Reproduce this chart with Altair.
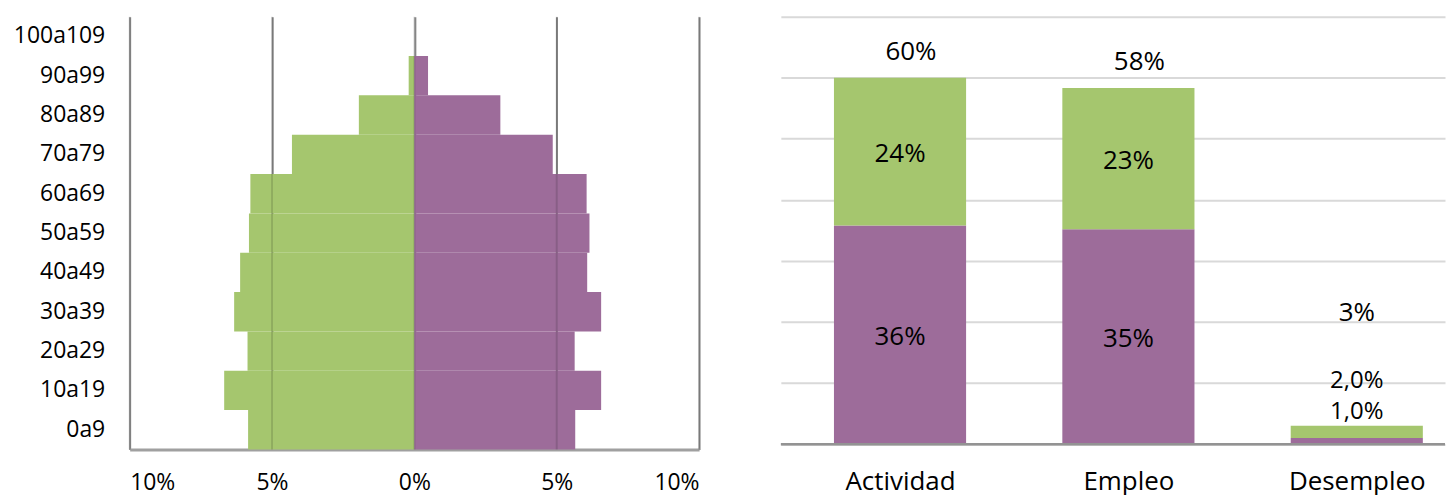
import json
import altair as alt
import pandas as pd

# ---------------- data ----------------
edades = ["0a9", "10a19", "20a29", "30a39", "40a49", "50a59",
          "60a69", "70a79", "80a89", "90a99", "100a109"]
verde_izq = [5.84, 6.68, 5.86, 6.33, 6.12, 5.81, 5.76, 4.30, 1.95, 0.20, 0.0]
morado_der = [5.65, 6.56, 5.63, 6.56, 6.07, 6.15, 6.05, 4.86, 3.02, 0.48, 0.0]
ticks_x = [-10, -5, 0, 5, 10]

categorias = ["Actividad", "Empleo", "Desempleo"]
morado_tasa = [35.8, 35.2, 1.0]
verde_tasa = [24.2, 23.1, 2.0]
etiq_morado = ["36%", "35%", "1,0%"]
etiq_verde = ["24%", "23%", "2,0%"]
total_tasa = [60.0, 58.3, 3.0]
etiq_total = ["60%", "58%", "3%"]
ticks_y = [0, 10, 20, 30, 40, 50, 60, 70]

GREEN = "#A5C66E"
PURPLE = "#9D6C9A"
FONT = "Open Sans"

# ---------------- left: pyramid ----------------
pyr = pd.DataFrame({
    "edad": edades * 2,
    "serie": ["verde"] * len(edades) + ["morado"] * len(edades),
    "valor": [-v for v in verde_izq] + morado_der,
})
orden_y = edades[::-1]
color_scale = alt.Scale(domain=["verde", "morado"], range=[GREEN, PURPLE])

x_left_scale = alt.Scale(domain=[-10, 10], nice=False, zero=False)
x_left_axis = alt.Axis(values=ticks_x, labelExpr="abs(datum.value) + '%'",
                       title=None, grid=True, gridColor="#8c8c8c", gridWidth=2,
                       ticks=False, domainColor="#a0a0a0", domainWidth=3,
                       labelFontSize=23, labelPadding=22, labelFont=FONT,
                       labelColor="#000")

bars_left = alt.Chart(pyr).mark_bar().encode(
    x=alt.X("valor:Q", scale=x_left_scale, axis=x_left_axis),
    y=alt.Y("edad:N", sort=orden_y,
            scale=alt.Scale(paddingInner=0, paddingOuter=0),
            axis=alt.Axis(title=None, domain=False, ticks=False, labelFontSize=23,
                          labelPadding=25, labelFont=FONT, labelColor="#000")),
    color=alt.Color("serie:N", scale=color_scale, legend=None),
)

rules_left = alt.Chart(pd.DataFrame({"valor": ticks_x})).mark_rule(
    color="#000", opacity=0.13, strokeWidth=2
).encode(x=alt.X("valor:Q", scale=x_left_scale, axis=x_left_axis))

left = alt.layer(bars_left, rules_left).properties(width=571, height=434)

# ---------------- right: stacked bars ----------------
idx = list(range(len(categorias)))
tasas = pd.DataFrame({
    "cat": categorias * 2,
    "pos": idx * 2,
    "serie": ["morado"] * 3 + ["verde"] * 3,
    "valor": morado_tasa + verde_tasa,
    "etiqueta": etiq_morado + etiq_verde,
    "orden": [0] * 3 + [1] * 3,
})
totales = pd.DataFrame({"cat": categorias, "pos": idx, "total": total_tasa,
                        "etiqueta": etiq_total})

x_right = alt.X("pos:Q",
                scale=alt.Scale(domain=[-0.5, 2.3645], nice=False, zero=False),
                axis=alt.Axis(title=None, values=idx, grid=False, ticks=False, domain=False,
                              labelExpr=json.dumps(categorias) + "[datum.value]",
                              labelFontSize=26, labelPadding=24, labelFont=FONT,
                              labelColor="#000"))
y_scale = alt.Scale(domain=[0, 70], nice=False)
y_axis = alt.Axis(title=None, values=ticks_y, labels=False, ticks=False, domain=False,
                  gridColor="#d9d9d9", gridWidth=2)

base_r = alt.Chart(tasas).transform_stack(
    stack="valor", groupby=["cat"], as_=["y0", "y1"],
    sort=[alt.SortField("orden", order="ascending")]
).transform_calculate(mid="(datum.y0 + datum.y1) / 2")

bars_right = base_r.mark_bar(size=132.5).encode(
    x=x_right,
    y=alt.Y("y0:Q", scale=y_scale, axis=y_axis),
    y2="y1:Q",
    color=alt.Color("serie:N", scale=color_scale, legend=None),
)

baseline = alt.Chart(pd.DataFrame({"y0": [0]})).mark_rule(
    color="#939393", strokeWidth=2.5
).encode(y=alt.Y("y0:Q", scale=y_scale, axis=y_axis))

txt_style = dict(font=FONT, fontSize=26, color="#000", baseline="middle", align="center")
txt_small = dict(font=FONT, fontSize=24, color="#000", baseline="middle", align="center")

seg_main = base_r.transform_filter("datum.cat != 'Desempleo'").mark_text(
    dy=2, **txt_style).encode(x=x_right, y=alt.Y("mid:Q", scale=y_scale), text="etiqueta:N")
seg_des_m = base_r.transform_filter("datum.cat == 'Desempleo' && datum.serie == 'morado'").mark_text(
    dy=-29, **txt_small).encode(x=x_right, y=alt.Y("mid:Q", scale=y_scale), text="etiqueta:N")
seg_des_v = base_r.transform_filter("datum.cat == 'Desempleo' && datum.serie == 'verde'").mark_text(
    dy=-51, **txt_small).encode(x=x_right, y=alt.Y("mid:Q", scale=y_scale), text="etiqueta:N")

tot_main = alt.Chart(totales).transform_filter("datum.cat != 'Desempleo'").mark_text(
    dy=-26, dx=11, **txt_style).encode(x=x_right, y=alt.Y("total:Q", scale=y_scale), text="etiqueta:N")
tot_des = alt.Chart(totales).transform_filter("datum.cat == 'Desempleo'").mark_text(
    dy=-113, **txt_style).encode(x=x_right, y=alt.Y("total:Q", scale=y_scale), text="etiqueta:N")

right = alt.layer(bars_right, baseline, seg_main, seg_des_m, seg_des_v, tot_main, tot_des).properties(
    width=666, height=428.7)

chart = alt.hconcat(left, right, spacing=82, bounds="flush").properties(
    padding={"left": 5, "top": 7, "right": 0, "bottom": 0}
).configure_view(stroke=None)

chart.save("out.html", embed_options={"renderer": "svg", "actions": False})
